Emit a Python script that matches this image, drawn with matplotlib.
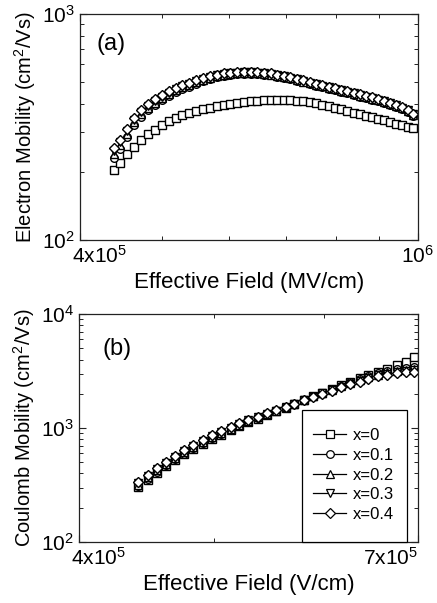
import matplotlib
matplotlib.use("Agg")
import matplotlib.pyplot as plt
from matplotlib.lines import Line2D
from matplotlib.patches import Rectangle
from matplotlib.ticker import FixedLocator, FixedFormatter, NullFormatter
import matplotlib.transforms as mtransforms

plt.rcParams["font.family"] = ["Liberation Sans", "DejaVu Sans"]
plt.rcParams["mathtext.fontset"] = "custom"
plt.rcParams["mathtext.rm"] = "Liberation Sans"

# ----------------------------------------------------------------------
# (a) electron mobility vs effective field, field in units of 1e5
# ----------------------------------------------------------------------
field_a = [4.39, 4.454, 4.540, 4.627, 4.716, 4.806, 4.898, 4.992, 5.087, 5.184,
           5.282, 5.382, 5.484, 5.587, 5.692, 5.798, 5.906, 6.016, 6.127, 6.240,
           6.354, 6.470, 6.588, 6.707, 6.828, 6.950, 7.074, 7.200, 7.327, 7.456,
           7.586, 7.718, 7.852, 7.987, 8.124, 8.262, 8.402, 8.544, 8.687, 8.832,
           8.978, 9.126, 9.276, 9.427, 9.580, 9.734, 9.87]

mob_a_x00 = [204, 219, 239, 258, 276, 293, 308, 322, 335, 347,
             357, 365, 372, 378, 384, 390, 395, 400, 404, 407,
             410, 412, 414, 415, 416, 416, 415, 413, 410, 407,
             403, 397, 391, 384, 378, 372, 366, 360, 354, 349,
             343, 338, 332, 327, 322, 317, 313]
mob_a_x01 = [230, 253, 286, 321, 350, 375, 396, 416, 433, 451,
             465, 477, 491, 503, 514, 524, 532, 538, 542, 543,
             543, 542, 539, 535, 528, 521, 514, 506, 498, 490,
             482, 474, 466, 460, 453, 446, 439, 431, 425, 418,
             413, 405, 397, 388, 379, 368, 354]
mob_a_x02 = [240, 262, 295, 331, 359, 384, 405, 425, 441, 459,
             473, 484, 498, 510, 520, 529, 537, 543, 546, 547,
             547, 546, 543, 539, 533, 526, 518, 510, 502, 494,
             486, 478, 470, 463, 456, 450, 443, 435, 429, 422,
             416, 408, 400, 391, 382, 371, 357]
mob_a_x03 = [247, 270, 303, 338, 367, 391, 412, 431, 448, 465,
             478, 490, 503, 514, 524, 534, 541, 546, 550, 551,
             551, 550, 547, 543, 536, 529, 521, 513, 505, 497,
             489, 481, 473, 466, 459, 452, 445, 437, 431, 424,
             418, 411, 403, 394, 385, 374, 359]
mob_a_x04 = [255, 277, 310, 345, 374, 398, 419, 438, 454, 471,
             484, 495, 508, 519, 529, 538, 545, 550, 553, 554,
             554, 553, 550, 546, 539, 532, 524, 516, 508, 500,
             492, 484, 476, 469, 462, 455, 448, 440, 434, 427,
             421, 413, 405, 396, 387, 376, 361]

# ----------------------------------------------------------------------
# (b) Coulomb mobility vs effective field, field in units of 1e5
# ----------------------------------------------------------------------
field_b = [4.41, 4.48, 4.55, 4.62, 4.69, 4.76, 4.83, 4.91, 4.98, 5.06,
           5.14, 5.21, 5.29, 5.38, 5.46, 5.54, 5.63, 5.71, 5.80, 5.89,
           5.98, 6.07, 6.17, 6.26, 6.36, 6.45, 6.55, 6.65, 6.76, 6.86, 6.96]

mob_b_x00 = [304, 353, 406, 463, 524, 587, 655, 726, 800, 875,
             955, 1038, 1122, 1211, 1303, 1400, 1514, 1637, 1766, 1905,
             2051, 2208, 2371, 2541, 2729, 2931, 3126, 3327, 3548, 3837, 4217]
mob_b_x01 = [310, 360, 414, 472, 533, 598, 667, 740, 815, 891,
             971, 1054, 1140, 1227, 1318, 1413, 1524, 1644, 1770, 1905,
             2046, 2198, 2355, 2518, 2692, 2871, 3027, 3170, 3289, 3381, 3459]
mob_b_x02 = [320, 372, 427, 486, 548, 615, 685, 759, 834, 910,
             989, 1072, 1156, 1242, 1330, 1419, 1528, 1644, 1766, 1897,
             2028, 2173, 2323, 2477, 2642, 2805, 2951, 3083, 3184, 3258, 3319]
mob_b_x03 = [327, 380, 437, 497, 561, 628, 698, 773, 847, 925,
             1005, 1086, 1167, 1250, 1337, 1426, 1531, 1644, 1762, 1888,
             2018, 2158, 2301, 2443, 2600, 2761, 2897, 3013, 3112, 3170, 3214]
mob_b_x04 = [336, 389, 447, 508, 573, 641, 713, 787, 863, 940,
             1019, 1099, 1180, 1262, 1346, 1432, 1535, 1644, 1758, 1879,
             2004, 2138, 2275, 2415, 2564, 2716, 2844, 2951, 3034, 3083, 3112]

labels = ["x=0", "x=0.1", "x=0.2", "x=0.3", "x=0.4"]
markers = ["s", "o", "^", "v", "D"]
sizes = [5.5, 5.5, 5.5, 5.5, 4.8]

series_a = [mob_a_x00, mob_a_x01, mob_a_x02, mob_a_x03, mob_a_x04]
series_b = [mob_b_x00, mob_b_x01, mob_b_x02, mob_b_x03, mob_b_x04]

fig = plt.figure(figsize=(4.37, 6.03), dpi=100)
ax_a = fig.add_axes([0.183, 0.602, 0.773, 0.375])
ax_b = fig.add_axes([0.181, 0.101, 0.775, 0.378])

def style_axes(ax):
    for sp in ax.spines.values():
        sp.set_linewidth(0.9)
        sp.set_color("#222222")
    ax.tick_params(which="both", direction="in", top=True, right=True,
                   colors="#222222", labelcolor="black", labelsize=15)
    ax.tick_params(which="major", length=5, width=0.8)
    ax.tick_params(which="minor", length=3, width=0.7)

def draw_series(ax, field, series):
    for ys, m, ms in zip(series, markers, sizes):
        xs = [f * 1e5 for f in field]
        ax.plot(xs, ys, linestyle="None", marker=m, ms=ms, mfc="white",
                mec="black", mew=1.0)

# --- panel (a)
draw_series(ax_a, field_a, series_a)
ax_a.set_xscale("log")
ax_a.set_yscale("log")
ax_a.set_xlim(4e5, 1e6)
ax_a.set_ylim(1e2, 1e3)
ax_a.xaxis.set_major_locator(FixedLocator([4e5, 1e6]))
ax_a.xaxis.set_major_formatter(FixedFormatter([r"$\mathregular{4x10^5}$", r"$\mathregular{10^6}$"]))
ax_a.xaxis.set_minor_locator(FixedLocator([5e5, 6e5, 7e5, 8e5, 9e5]))
ax_a.xaxis.set_minor_formatter(NullFormatter())
ax_a.yaxis.set_major_locator(FixedLocator([1e2, 1e3]))
ax_a.yaxis.set_major_formatter(FixedFormatter([r"$\mathregular{10^2}$", r"$\mathregular{10^3}$"]))
ax_a.yaxis.set_minor_locator(FixedLocator([k * 100 for k in range(2, 10)]))
ax_a.yaxis.set_minor_formatter(NullFormatter())
style_axes(ax_a)
ax_a.set_xlabel("Effective Field (MV/cm)", fontsize=16, labelpad=4)
ax_a.set_ylabel(r"Electron Mobility (cm$\mathregular{^2}$/Vs)", fontsize=14.5, labelpad=3)
ax_a.text(0.05, 0.867, "(a)", transform=ax_a.transAxes, fontsize=17,
          ha="left", va="center")

# --- panel (b)
draw_series(ax_b, field_b, series_b)
ax_b.set_xscale("log")
ax_b.set_yscale("log")
ax_b.set_xlim(4e5, 7e5)
ax_b.set_ylim(1e2, 1e4)
ax_b.xaxis.set_major_locator(FixedLocator([4e5, 7e5]))
ax_b.xaxis.set_major_formatter(FixedFormatter([r"$\mathregular{4x10^5}$", r"$\mathregular{7x10^5}$"]))
ax_b.xaxis.set_minor_locator(FixedLocator([5e5, 6e5]))
ax_b.xaxis.set_minor_formatter(NullFormatter())
ax_b.yaxis.set_major_locator(FixedLocator([1e2, 1e3, 1e4]))
ax_b.yaxis.set_major_formatter(FixedFormatter([r"$\mathregular{10^2}$", r"$\mathregular{10^3}$",
                                               r"$\mathregular{10^4}$"]))
ax_b.yaxis.set_minor_locator(FixedLocator([k * 10 ** d for d in (2, 3) for k in range(2, 10)]))
ax_b.yaxis.set_minor_formatter(NullFormatter())
style_axes(ax_b)
ax_b.set_xlabel("Effective Field (V/cm)", fontsize=16, labelpad=4)
ax_b.set_ylabel(r"Coulomb Mobility (cm$\mathregular{^2}$/Vs)", fontsize=14.5, labelpad=3)
ax_b.text(0.068, 0.849, "(b)", transform=ax_b.transAxes, fontsize=17,
          ha="left", va="center")

# legend entries without their own frame; a plain box is drawn behind them
handles = [Line2D([0], [0], color="black", lw=0.9, marker=m, ms=ms,
                  mfc="white", mec="black", mew=0.9, label=lab)
           for m, ms, lab in zip(markers, sizes, labels)]
leg = ax_b.legend(handles=handles, loc="center", bbox_to_anchor=(0.811, 0.294),
                  borderaxespad=0, fontsize=12, handlelength=2.0, handletextpad=0.4,
                  labelspacing=0.28, borderpad=0.2, frameon=False)
leg.set_zorder(6)
ax_b.add_patch(Rectangle((0.658, 0.0), 0.3096, 0.579, transform=ax_b.transAxes,
                         facecolor="white", edgecolor="black", lw=0.9, zorder=5,
                         clip_on=False))

# the left tick labels sit a little right of their ticks; the 7x10^5 label ends at the frame
fig.canvas.draw()
shift = mtransforms.ScaledTranslation(-8 / 100, 0, fig.dpi_scale_trans)
for ax in (ax_a, ax_b):
    lab = ax.xaxis.get_majorticklabels()[0]
    lab.set_ha("left")
    lab.set_transform(lab.get_transform() + shift)
lab = ax_b.xaxis.get_majorticklabels()[1]
lab.set_ha("right")

fig.savefig("out.png", dpi=100)
